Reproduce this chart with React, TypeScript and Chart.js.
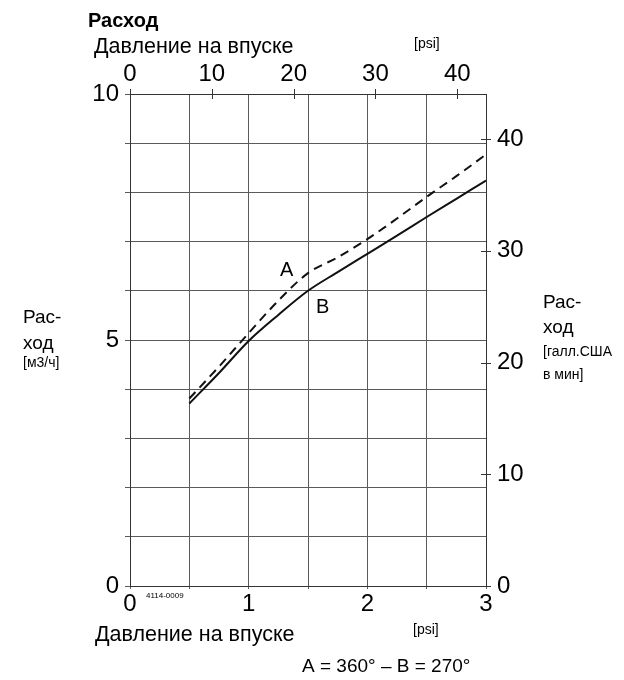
import React, { useEffect, useRef } from "react";
import { Chart, registerables } from "chart.js";

Chart.register(...registerables);

// Inlet pressure [bar] where the curves are read
const pressureBar = [0.5, 0.75, 1.0, 1.25, 1.5, 1.75, 2.0, 2.25, 2.5, 2.75, 3.0];
// Curve A (360°), dashed, flow m3/h
const flowA = [3.81, 4.46, 5.14, 5.8, 6.36, 6.68, 7.05, 7.47, 7.91, 8.33, 8.77];
// Curve B (270°), solid, flow m3/h
const flowB = [3.71, 4.33, 4.98, 5.51, 6.0, 6.38, 6.75, 7.12, 7.5, 7.87, 8.24];

const barTicks = [0, 1, 2, 3];
const barGrid = [0, 0.5, 1, 1.5, 2, 2.5, 3];
const psiTicks = [0, 10, 20, 30, 40];
const m3hTicks = [0, 5, 10];
const m3hGrid = [0, 1, 2, 3, 4, 5, 6, 7, 8, 9, 10];
const gpmTicks = [0, 10, 20, 30, 40];

const BAR_MAX = 3;
const M3H_MAX = 10;
const PSI_PER_BAR = 14.5038;
const GPM_PER_M3H = 4.40287;

const FONT = "'Liberation Sans', Arial, sans-serif";

const textPlugin = {
  id: "texts",
  afterDraw(chart: any) {
    const ctx = chart.ctx;
    const { x2, y2 } = chart.scales;
    ctx.save();
    // cross ticks on top and right axes
    ctx.strokeStyle = "#333";
    ctx.lineWidth = 1;
    x2.ticks.forEach((t: any) => {
      const px = Math.round(x2.getPixelForValue(t.value)) + 0.5;
      ctx.beginPath();
      ctx.moveTo(px, x2.bottom - 5);
      ctx.lineTo(px, x2.bottom + 5);
      ctx.stroke();
    });
    y2.ticks.forEach((t: any) => {
      const py = Math.round(y2.getPixelForValue(t.value)) + 0.5;
      ctx.beginPath();
      ctx.moveTo(y2.left - 5, py);
      ctx.lineTo(y2.left + 5, py);
      ctx.stroke();
    });

    ctx.fillStyle = "#000";
    ctx.textBaseline = "alphabetic";
    ctx.textAlign = "left";
    const t = (s: string, x: number, y: number, size: number, bold = false) => {
      ctx.font = `${bold ? "bold " : ""}${size}px ${FONT}`;
      ctx.fillText(s, x, y);
    };
    t("Расход", 88, 27, 20, true);
    t("Давление на впуске", 94, 53, 21.5);
    t("[psi]", 414, 48, 14);

    t("Рас-", 23, 323, 19);
    t("ход", 23, 349, 19);
    t("[м3/ч]", 23, 367, 14);

    t("Рас-", 543, 308, 19);
    t("ход", 543, 333, 19);
    t("[галл.США", 543, 356, 14);
    t("в мин]", 543, 379, 14);

    t("Давление на впуске", 95, 641, 21.5);
    t("[psi]", 413, 634, 14);
    t("A = 360° – B = 270°", 302, 672, 19);
    t("4114-0009", 146, 598, 8);

    t("A", 280, 276, 20);
    t("B", 316, 313, 20);
    ctx.restore();
  },
};

export default function App() {
  const ref = useRef<HTMLCanvasElement>(null);

  useEffect(() => {
    if (!ref.current) return;
    const setTicks = (vals: number[]) => (s: any) => {
      s.ticks = vals.map((v) => ({ value: v }));
    };
    const tickFont = { family: FONT, size: 24 };
    const chart = new Chart(ref.current, {
      type: "line",
      data: {
        datasets: [
          {
            label: "A",
            data: pressureBar.map((x, i) => ({ x, y: flowA[i] })),
            borderColor: "#111",
            borderWidth: 2,
            borderDash: [9, 6],
            pointRadius: 0,
            cubicInterpolationMode: "monotone",
            xAxisID: "x",
            yAxisID: "y",
          },
          {
            label: "B",
            data: pressureBar.map((x, i) => ({ x, y: flowB[i] })),
            borderColor: "#111",
            borderWidth: 2,
            pointRadius: 0,
            cubicInterpolationMode: "monotone",
            xAxisID: "x",
            yAxisID: "y",
          },
        ],
      },
      options: {
        animation: false,
        responsive: false,
        devicePixelRatio: 1,
        layout: { padding: 0 },
        plugins: { legend: { display: false }, tooltip: { enabled: false } },
        scales: {
          x: {
            type: "linear",
            position: "bottom",
            min: 0,
            max: BAR_MAX,
            afterBuildTicks: setTicks(barGrid),
            afterFit: (s: any) => {
              s.height = 94;
            },
            ticks: {
              autoSkip: false,
              maxRotation: 0,
              padding: 1,
              color: "#000",
              font: tickFont,
              callback: (v: any) => (barTicks.includes(v) ? String(v) : ""),
            },
            grid: { color: "#5a5a5a", lineWidth: 1, tickLength: 3, drawTicks: true },
            border: { color: "#333", width: 1 },
          },
          x2: {
            type: "linear",
            position: "top",
            min: 0,
            max: BAR_MAX * PSI_PER_BAR,
            afterBuildTicks: setTicks(psiTicks),
            afterFit: (s: any) => {
              s.height = 94;
            },
            ticks: {
              autoSkip: false,
              maxRotation: 0,
              padding: 5,
              color: "#000",
              font: tickFont,
              callback: (v: any) => String(v),
            },
            grid: { display: false, drawTicks: false, tickLength: 0 },
            border: { color: "#333", width: 1 },
          },
          y: {
            type: "linear",
            position: "left",
            min: 0,
            max: M3H_MAX,
            afterBuildTicks: setTicks(m3hGrid),
            afterFit: (s: any) => {
              s.width = 130;
            },
            ticks: {
              autoSkip: false,
              padding: 6,
              color: "#000",
              font: tickFont,
              callback: (v: any) => (m3hTicks.includes(v) ? String(v) : ""),
            },
            grid: { color: "#5a5a5a", lineWidth: 1, tickLength: 5, drawTicks: true },
            border: { color: "#333", width: 1 },
          },
          y2: {
            type: "linear",
            position: "right",
            min: 0,
            max: M3H_MAX * GPM_PER_M3H,
            afterBuildTicks: setTicks(gpmTicks),
            afterFit: (s: any) => {
              s.width = 138;
            },
            ticks: {
              autoSkip: false,
              padding: 11,
              color: "#000",
              font: tickFont,
              callback: (v: any) => String(v),
            },
            grid: { display: false, drawTicks: false, tickLength: 0 },
            border: { color: "#333", width: 1 },
          },
        },
      },
      plugins: [textPlugin],
    } as any);
    return () => chart.destroy();
  }, []);

  return (
    <div style={{ position: "fixed", left: 0, top: 0, width: 624, height: 680, background: "#fff" }}>
      <canvas ref={ref} width={624} height={680} style={{ display: "block", width: 624, height: 680 }} />
    </div>
  );
}
